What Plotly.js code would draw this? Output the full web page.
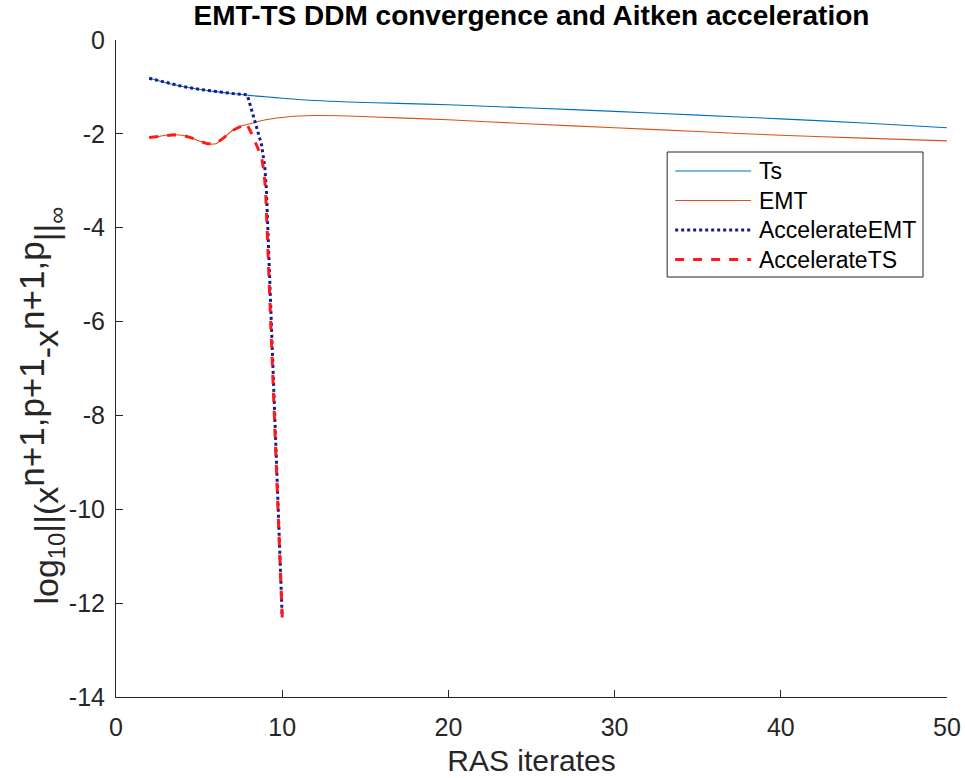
<!DOCTYPE html>
<html>
<head>
<meta charset="utf-8">
<script src="https://cdn.plot.ly/plotly-3.0.1.min.js"></script>
<style>
  html, body { margin: 0; padding: 0; background: #fff; }
  #chart { width: 965px; height: 778px; }
</style>
</head>
<body>
<div id="chart"></div>
<script>
// Residual history (log10 of the infinity norm) per RAS iterate

// Plain TS-side iteration
const tsX = [2, 3, 4, 5, 6, 7, 8, 9, 10, 12, 14, 17, 20, 25, 30, 35, 40, 45, 50];
const tsY = [-0.815, -0.91, -0.99, -1.05, -1.10, -1.14, -1.18, -1.21, -1.24, -1.29, -1.32, -1.35, -1.38, -1.45, -1.52, -1.60, -1.68, -1.77, -1.87];

// Plain EMT-side iteration
const emtX = [2, 2.5, 3, 3.5, 4, 4.5, 5, 5.5, 6, 6.5, 7, 7.5, 8, 9, 10, 11, 12, 14, 17, 20, 25, 30, 35, 40, 45, 50];
const emtY = [-2.08, -2.06, -2.03, -2.02, -2.03, -2.08, -2.15, -2.21, -2.21, -2.08, -1.93, -1.84, -1.79, -1.70, -1.65, -1.62, -1.61, -1.62, -1.66, -1.70, -1.79, -1.87, -1.95, -2.03, -2.09, -2.15];

// Aitken-accelerated EMT sequence
const accEmtX = [2, 3, 4, 5, 6, 7, 7.9, 8.15, 8.45, 8.75, 8.95, 9.05, 10];
const accEmtY = [-0.815, -0.91, -0.99, -1.05, -1.10, -1.14, -1.17, -1.50, -1.85, -2.22, -2.70, -3.19, -12.3];

// Aitken-accelerated TS sequence
const accTsX = [2, 2.5, 3, 3.5, 4, 4.5, 5, 5.5, 6, 6.5, 7, 7.5, 7.85, 8.1, 8.45, 8.75, 8.9, 9.0, 10];
const accTsY = [-2.08, -2.06, -2.03, -2.02, -2.03, -2.08, -2.15, -2.21, -2.21, -2.08, -1.93, -1.84, -1.78, -1.95, -2.23, -2.48, -2.80, -3.20, -12.3];

const seriesNames = ['Ts', 'EMT', 'AccelerateEMT', 'AccelerateTS'];

const xTicks = [0, 10, 20, 30, 40, 50];
const yTicks = [0, -2, -4, -6, -8, -10, -12, -14];

const FONT = 'Liberation Sans, Arial, Helvetica, sans-serif';
const AXIS_COLOR = '#262626';

const W = 965, H = 778;
const M = { l: 115.5, r: 18, t: 40, b: 81 };
const plotW = W - M.l - M.r;
const plotH = H - M.t - M.b;

// page pixel -> paper fraction helpers (used for the boxed key and the y label)
const px = v => (v - M.l) / plotW;
const py = v => (H - M.b - v) / plotH;

const lineStyles = [
  { color: '#0072BD', width: 1.1 },
  { color: '#D95319', width: 1.1 },
  { color: '#1a1a8f', width: 3, dash: 'dot' },
  { color: '#ff1a1a', width: 3, dash: 'dash' }
];

const traces = [
  { x: tsX, y: tsY, name: seriesNames[0], type: 'scatter', mode: 'lines',
    line: Object.assign({ shape: 'spline', smoothing: 0.8 }, lineStyles[0]) },
  { x: emtX, y: emtY, name: seriesNames[1], type: 'scatter', mode: 'lines',
    line: Object.assign({ shape: 'spline', smoothing: 0.8 }, lineStyles[1]) },
  { x: accEmtX, y: accEmtY, name: seriesNames[2], type: 'scatter', mode: 'lines',
    line: Object.assign({}, lineStyles[2]) },
  { x: accTsX, y: accTsY, name: seriesNames[3], type: 'scatter', mode: 'lines',
    line: Object.assign({}, lineStyles[3]) }
];

// Boxed key in the upper right of the axes
const key = { left: 667, right: 923, top: 152, bottom: 277, rows: [171, 200.5, 230, 259.5],
              lineFrom: 675, lineTo: 751, textAt: 757 };

const shapes = [
  { type: 'rect', xref: 'paper', yref: 'paper',
    x0: px(key.left), x1: px(key.right), y0: py(key.bottom), y1: py(key.top),
    line: { color: AXIS_COLOR, width: 1 }, fillcolor: '#ffffff', layer: 'above' }
];
const annotations = [];
seriesNames.forEach((name, i) => {
  shapes.push({ type: 'line', xref: 'paper', yref: 'paper',
    x0: px(key.lineFrom), x1: px(key.lineTo), y0: py(key.rows[i]), y1: py(key.rows[i]),
    line: lineStyles[i], layer: 'above' });
  annotations.push({ xref: 'paper', yref: 'paper', x: px(key.textAt), y: py(key.rows[i]),
    xanchor: 'left', yanchor: 'middle', showarrow: false, text: name,
    font: { family: FONT, size: 23, color: '#000000' } });
});

// Vertical y-axis label
const SUP = s => '<sup><span style="font-size:35px">' + s + '</span></sup>';
annotations.push({
  xref: 'paper', yref: 'paper', x: px(40), y: py(406),
  xanchor: 'center', yanchor: 'middle', showarrow: false, textangle: -90,
  text: 'log<sub>10</sub>||(x' + SUP('n+1,p+1') + '-x' + SUP('n+1,p') + '||<sub>∞</sub>',
  font: { family: FONT, size: 34, color: AXIS_COLOR }
});

const layout = {
  width: W,
  height: H,
  margin: M,
  paper_bgcolor: '#ffffff',
  plot_bgcolor: '#ffffff',
  font: { family: FONT, color: AXIS_COLOR, size: 25 },
  showlegend: false,
  title: {
    text: '<b>EMT-TS DDM convergence and Aitken acceleration</b>',
    font: { family: FONT, size: 28, color: '#000000' },
    x: 0.5, xanchor: 'center', xref: 'paper',
    y: 0.981, yanchor: 'middle'
  },
  xaxis: {
    range: [0, 50],
    tickvals: xTicks,
    ticktext: xTicks.map(String),
    ticks: 'inside', ticklen: 7, tickcolor: AXIS_COLOR,
    ticklabelstandoff: 8,
    showline: true, linecolor: AXIS_COLOR, linewidth: 1,
    showgrid: false, zeroline: false, mirror: false,
    tickfont: { family: FONT, size: 25, color: AXIS_COLOR },
    title: { text: 'RAS iterates', font: { family: FONT, size: 30, color: AXIS_COLOR }, standoff: 9 }
  },
  yaxis: {
    range: [-14, 0],
    tickvals: yTicks,
    ticktext: yTicks.map(String),
    ticks: 'inside', ticklen: 7, tickcolor: AXIS_COLOR,
    ticklabelstandoff: 5,
    showline: true, linecolor: AXIS_COLOR, linewidth: 1,
    showgrid: false, zeroline: false, mirror: false,
    tickfont: { family: FONT, size: 25, color: AXIS_COLOR }
  },
  shapes: shapes,
  annotations: annotations
};

Plotly.newPlot('chart', traces, layout, { displayModeBar: false, staticPlot: true });
</script>
</body>
</html>
